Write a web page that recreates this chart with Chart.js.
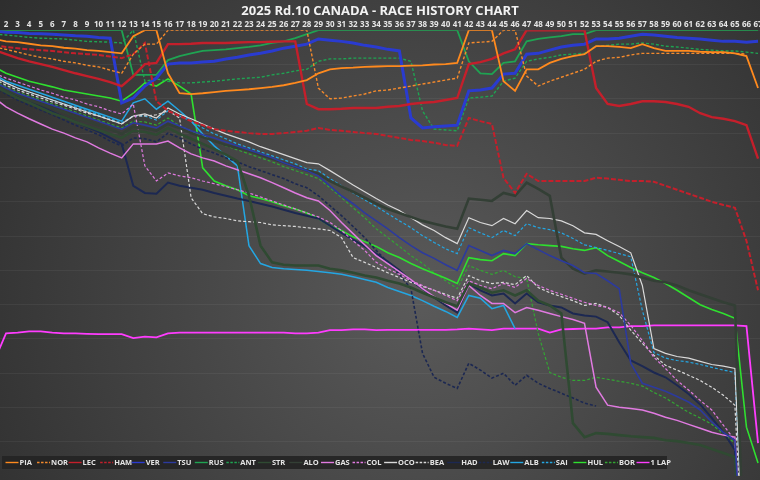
<!DOCTYPE html>
<html>
<head>
<meta charset="utf-8">
<title>2025 Rd.10 CANADA - RACE HISTORY CHART</title>
<script src="https://cdn.jsdelivr.net/npm/chart.js@4.4.1/dist/chart.umd.min.js"></script>
<style>
  html, body { margin: 0; padding: 0; background: #2b2b2b; }
  #wrap { width: 760px; height: 480px; }
</style>
</head>
<body>
<div id="wrap"><canvas id="history" width="760" height="480"></canvas></div>
<script>
// Vueltas (eje X) y etiquetas visibles arriba
const laps = Array.from({ length: 67 }, (_, i) => i + 1);
const lapTicks = Array.from({ length: 66 }, (_, i) => i + 2);

// Diferencia con el líder en segundos, vuelta 1..67 (null = sin dato)
const piaGap = [2.2,2.8,3,3.4,3.8,4,4.4,4.6,5,5.2,5.5,5.8, 1.5,0,0,10.8,15.8,16,15.8,15.5,15.2,15,14.8,14.5,14.2,13.8,13.2,12.5, 10.8,9.8,9.5,9.4,9.2,9.1,9,9,8.9,8.8,8.6,8.5,8.2, 0,0,0,12.8,15.2,9.8,9.8,8.2,7.2,6.5,6, 4,4,4.2,4.5,3.5,4.5,5.2,5.2,5.2,5.4,5.5,5.5,5.8,6.5,14.5];
const norGap = [4.2,4.8,5.5,6.2,6.8,7.2,7.8,8.2,8.8,9.2,10,10.8, 6,3.5,3.5,0,0,0,0,0,0,0,0,0,0,0,0,0, 14.5,17.2,17,16.5,16,15.2,15,14.5,14,13.5,13,12.5,12, 3.2,3,2.8,0,0,11.5,14,12.8,11.8,10.8,9.8, 7.8,7,6.8,6.2,5.8,5.8,5.8,5.8,5.8,5.8,5.8,5.8,5.8,6,null];
const lecGap = [5,6,7,7.8,8.5,9.2,10,10.8,11.5,12.2,13,14, 11.5,8.5,8.2,3.5,3.5,3.4,3.2,3.2,3.2,3.1,3,3,2.9,2.8,2.8,18.5, 19.8,19.8,19.7,19.5,19.5,19.5,19.2,19,18.5,18.2,18,17.5,17, 8.5,8,7.2,5.8,4.8,0,0,0,0,0,0, 14.5,18.5,19,18.5,17.8,17.8,18,18.5,19.2,20.8,21.8,22.2,22.8,23.8,32.2];
const hamGap = [3.8,4.2,4.5,4.8,5,5.2,5.5,5.8,6,6.2,6.6,7, 6,3.2,17.8,20.2,21.5,22.8,23.8,24.8,25.2,25.5,25.8,26,26,25.8,25.5,25.2, 24.5,25,25.2,25.5,25.8,26,26.5,27,27.5,27.8,28.2,28.8,29, 22,22.8,23.5,37,40.8,36,37.8,37.8,37.8,37.8,37.8, 37,37.2,37.5,37.8,37.8,38,39,40,41,42,43,43.8,44.5,52.8,65.2];
const verGap = [0.2,0.5,0.6,0.8,0.9,1,1.2,1.4,1.5,1.8,2,18.2, 17,14,12,8.5,8.2,8.2,8,7.8,7.2,6.8,6.2,5.8,5.2,4.5,4,3.5, 2.2,2.5,2.8,3.2,3.8,4.2,4.8,5.2,22,24.5,24.2,24,23.8, 15.2,15,14.5,11,10.8,6,5.8,5,4.2,3.8,3.5, 2.2,2.2,2,1.5,1,1.2,1.5,1.8,2,2.2,2.5,2.8,2.8,3,2.8];
const tsuGap = [13,14.5,15.8,16.8,17.8,18.8,19.8,20.8,21.8,22.8,23.8,24.8, 23.2,23.8,24.5,22.8,24,25.2,26.2,27,28,29,30,31,32,33.2,34.2,35.2, 36.5,39,41.5,43.5,45.8,47.8,49.8,52,54,55.8,57.2,58.8,60.2, 54,55.2,56.5,55.2,56,53.5,55,56.5,57.8,59,60.8, 61,62.8,64.8,83.5,88.5,89.5,90.5,91.8,93.2,95.2,98.2,100.8,102.8,150,null];
const rusGap = [0,0,0,0,0,0,0,0,0,0,0,0, 11.2,11.2,11.2,7.5,6.5,5.8,5.2,5,4.8,4.5,4.2,3.8,3.2,2.8,2,1, 0,0,0,0,0,0,0,0,0,0,0,0,0, 7.8,10.8,11,8.2,7.8,2.8,2.2,1.8,1.5,1,1, 0,0,0,0,0,0,0,0,0,0,0,0,0,0,0];
const antGap = [1,1.2,1.5,1.8,2,2.1,2.2,2.5,2.8,2.9,3,3.2, 0,12.8,12.2,12.8,13.2,13.2,13,12.8,12.5,12.2,12,11.8,11.2,10.8,10.2,9.8, 7.8,7.2,7.2,7,7,7,7,7,7.8,20.2,24.8,25,25.2, 17,16.8,16.5,12.8,12,7.8,7.2,6.8,6.2,6,5.8, 4,3.8,3.5,3.5,3.2,3.5,4,4.2,4.5,4.8,5,5.2,5.2,5.5,5.8];
const strGap = [14,15.5,17,18.2,19.5,20.8,21.8,23,24,25,26,27, 25.2,25.5,26.2,24.5,26,27.2,28.5,29.8,31.2,32.8,41.5,54,58.2,58.8,59,59, 59,59.8,60.2,60.8,61.5,62,62.8,63.5,64.5,65.8,67,68.2,69.2, 63.5,64.5,65.8,65.2,66.5,65.2,67.8,69,71,98.5,102, 101,101.2,101.5,101.8,102,102.2,102.8,103,103.5,104,105,106,107,150,null];
const aloGap = [13.5,15,16.2,17.5,18.5,19.5,20.5,21.8,22.8,23.8,24.8,26, 24.2,24.5,25.2,23.5,24.5,25.8,26.8,27.8,28.8,29.5,30.2,31.2,32.2,33.2,34.2,35.2, 36,37.8,39.2,40.5,42,43.5,44.8,45.8,46.8,47.8,48.5,49.2,49.8, 42.2,42.5,42.8,40.8,41.5,38.2,39.8,41.5,57,59.8,61, 60.2,60.5,60.8,61.2,62,62.8,63.2,64,65.2,66.2,67.2,68.2,69,150,null];
const gasGap = [17,19.2,20.8,22.2,23.5,24.8,25.8,27,28,29.5,30.8,32, 28.5,28.5,28.5,27.8,29.5,31,32,32.8,34,35,36,37,38.2,39.5,40.8,42, 42.8,45.2,48.2,51,53.8,56.5,58.5,60.5,62.5,64.8,66.8,68.5,70.2, 64,66.5,68.5,68.5,70.8,69.5,70.2,71,71.8,72.5,73.5, 89.5,94,94.5,94.8,95.2,96,97,97.8,98.8,99.8,100.8,101.5,102,150,null];
const colGap = [10.8,12,13,14,15,15.8,16.8,17.5,18.5,19.2,20.2,21, 18.5,34,37.8,35.8,36.5,37,37.8,38.5,39.2,40,40.8,41.8,42.8,43.8,44.8,45.8, 46.8,48.2,50.2,52.8,55.2,58.2,59.8,61.2,62.8,64,65.2,66.5,67.8, 62.8,64,64.8,63.5,64.5,62.2,64,65.2,66.2,67.2,68.2, 69,69.5,70.8,74,77.8,82,84.8,87.8,90.2,92.8,95.2,99,102.8,150,null];
const ocoGap = [11.8,13.2,14.5,15.5,16.5,17.5,18.5,19.5,20.5,21.5,22.5,23.5, 21.5,21,22,19.5,21,22.2,23.5,24.8,26,27,28,29.2,30.2,31.2,32.2,33.2, 33.5,35.2,37,38.8,40.5,42.2,43.8,45.2,47,48.8,50.2,52,53.5, 47,48.2,49,47.2,48.5,45.2,47,47.2,47.8,49,50.8, 51.2,52.8,54.2,55.8,64,79.8,81,81.8,82.2,83,83.8,84.2,84.8,150,null];
const beaGap = [12.2,13.8,15,16,17,18,18.8,19.8,20.8,21.5,22.5,23.5, 21.5,21.5,21.2,20.2,22,42,46,46.8,47.2,47.8,48,48.2,48.8,49,49.2,49.5, 49.8,50.2,52,57,58.2,59.5,60.8,62,63.2,64.2,65.2,66.2,67.2, 61.5,62.8,63.5,63.2,63.8,61.5,64.5,65.8,66.8,67.8,69, 68.5,69.5,71.5,75.2,78.5,81.5,84,85.2,86.5,87.8,89.5,91.5,94,150,null];
const hadGap = [13.8,15.2,16.8,18,19.2,20.5,21.8,23,24.2,25.5,27,28.5, 39,40.8,41,38.2,39,39.5,40,40.8,41.5,42.2,42.8,43.5,44.2,45,45.8,46.5, 47.2,49,50.8,52.5,54.2,56,58,60.2,62.8,64.8,67,69,70.8, 63.5,65.2,66.5,66,68.5,66,68.2,69,69.5,71,71.5, 71.8,73.2,78.2,82.8,84.2,85.8,87,89,91.2,93.8,97.2,100.8,105.2,150,null];
const lawGap = [14.2,16,17.5,18.8,20,21.2,22.5,23.8,25,26.2,27.8,29, 27,27.2,28,25.8,27,28.5,29.8,30.8,32,33,34.2,35.2,36.2,37.2,38.5,39.5, 41.5,44,46.5,49.2,52,55.2,58.2,61.2,64.8,81,87,88.5,89.8, 83.5,85.2,87.2,86,89,86.5,88.5,89.8,91,92.2,93.5, 94.2,null,null,null,null,null,null,null,null,null,null,null,null,null,null];
const albGap = [11.2,12.8,13.8,14.8,15.8,16.8,17.8,18.8,19.8,20.8,21.8,22.8, 18.2,17.2,19.8,17.8,20.2,22.8,26,29,31.5,34,54,58.5,59.5,59.8,60,60.2, 60.5,60.8,61.2,61.8,62.5,63.2,64.5,65.5,66.5,67.8,69.2,70.5,72, 66.5,67.2,69.8,69,74.8,null,null,null,null,null,null, null,null,null,null,null,null,null,null,null,null,null,null,null,null,null];
const saiGap = [11.8,13.2,14.5,15.5,16.5,17.5,18.5,19.2,20.2,21.2,22.2,23.2, 21.5,21.5,22.5,20.2,21.5,22.8,24.5,26,27.2,28.5,29.5,30.5,31.5,32.5,33.5,34.8, 35.2,37.2,39,40.8,42.5,44.2,46,47.8,49.5,51.5,53.2,54.8,56, 49.5,50.8,52,50.2,51.5,48.5,49.5,50,50.8,52.2,53.8, 54.5,55.2,56,56.8,70.2,80.8,82.2,82.8,83.2,83.8,84.5,85.2,85.8,150,null];
const hulGap = [9.2,10.8,11.8,12.8,13.5,14.2,15,15.5,16,16.5,17,17.8, 15.8,13.2,14,12.2,14,16,34.5,37.8,39,40,41.5,42.2,43,44,44.8,45.8, 47.2,49,50.2,51.8,53,54.2,55.8,57,58.5,59.8,61,62.2,63.5, 57,57.5,57.8,56,56.5,53.5,53.8,54,54.2,54.8,55.2, 54.5,56.5,58,59.5,60.8,62,63.5,65.2,67,68.8,70,71,72.2,99.5,108.5];
const borGap = [12.8,14.2,15.5,16.5,17.5,18.5,19.5,20.5,21.5,22.5,23.5,24.5, 22.8,23,23.8,22,24,25.2,26.5,27.8,29,30,31,32,33,34.2,35.2,36.2, 37.2,39.5,42,44.5,47,49.8,52,54.2,56.5,58.5,60.8,62.8,64.8, 59,60.2,61.2,60.2,61.8,62.2,76,85.8,87,87.8,87.8, 87,87.5,88,88.5,89.2,90.8,92.2,94,95.8,97.2,98.8,101.2,103.5,150,null];
const oneLapGap = [82.8,76,75.8,75.5,75.5,75.8,76,76,76.1,76.2,76.2,76.2, 77.2,76.8,77,76,75.8,75.8,75.8,75.8,75.8,75.8,75.8,75.8,75.8,75.8,76,76, 75.8,75.2,75.2,75,75,75.2,75.1,75.1,75.1,75.1,75.1,75.1,75, 74.8,75,75.2,74.8,74.8,74.8,74.8,75.8,75,74.9,74.8, 74.8,74.5,74.5,74.2,74.2,74,74,74,74,74,74,74,74,74.2,103.5];

// Rango visible del eje
const lapMin = 1.48;
const lapMax = 67.17;
const gapMax = 111.75;
const gridStep = 8.6;

const DASH = [3, 2];

/**
 * Crea un dataset de línea a partir de un array de diferencias por vuelta
 */
const series = (label, gaps, color, width, dash) => ({
  label,
  data: laps.map((lap, i) => ({ x: lap, y: gaps[i] })),
  borderColor: color,
  borderWidth: width,
  borderDash: dash || [],
  pointRadius: 0,
  pointHoverRadius: 0,
  tension: 0,
  spanGaps: false,
});

const datasets = [
  series("PIA", piaGap, "#ff8a1e", 1.8),
  series("NOR", norGap, "#f58a2c", 1.4, DASH),
  series("LEC", lecGap, "#c41f2b", 2.4),
  series("HAM", hamGap, "#c41f2b", 2, [5, 2]),
  series("VER", verGap, "#2a3bd0", 3),
  series("TSU", tsuGap, "#2c3a9e", 1.6),
  series("RUS", rusGap, "#1fa352", 1.8),
  series("ANT", antGap, "#1fa352", 1.4, DASH),
  series("STR", strGap, "#2f4a32", 2.6),
  series("ALO", aloGap, "#333f35", 2.6),
  series("GAS", gasGap, "#e07ae0", 1.5),
  series("COL", colGap, "#e07ae0", 1.2, DASH),
  series("OCO", ocoGap, "#d9d9d9", 1.2),
  series("BEA", beaGap, "#d9d9d9", 1.2, DASH),
  series("HAD", hadGap, "#1c2852", 2),
  series("LAW", lawGap, "#1c2852", 1.6, DASH),
  series("ALB", albGap, "#24a6e2", 1.5),
  series("SAI", saiGap, "#24a6e2", 1.2, DASH),
  series("HUL", hulGap, "#2fe02f", 1.6),
  series("BOR", borGap, "#33a533", 1.2, DASH),
  series("1 LAP", oneLapGap, "#ff3cff", 1.8),
];

// Fondo con degradado radial
const backdrop = {
  id: "backdrop",
  beforeDraw(chart) {
    const { ctx, width, height } = chart;
    const g = ctx.createRadialGradient(420, 300, 0, 420, 300, 560);
    g.addColorStop(0, "#5a5a5a");
    g.addColorStop(1, "#2a2a2a");
    ctx.save();
    ctx.fillStyle = g;
    ctx.fillRect(0, 0, width, height);
    ctx.restore();
  },
};

// Leyenda dibujada dentro del área del gráfico, abajo a la izquierda
const legendBar = {
  id: "legendBar",
  afterDraw(chart) {
    const ctx = chart.ctx;
    ctx.save();
    ctx.fillStyle = "rgba(36,36,36,0.92)";
    ctx.fillRect(2, 456, 665, 13);
    ctx.font = 'bold 7.5px "Open Sans", sans-serif';
    ctx.textBaseline = "middle";
    chart.data.datasets.forEach((ds, i) => {
      const x = 5.5 + i * 31.55;
      ctx.strokeStyle = ds.borderColor;
      ctx.lineWidth = 1.4;
      ctx.setLineDash(ds.borderDash.length ? [2.5, 1.5] : []);
      ctx.beginPath();
      ctx.moveTo(x, 462.5);
      ctx.lineTo(x + 13, 462.5);
      ctx.stroke();
      ctx.setLineDash([]);
      ctx.fillStyle = "#e4e4e4";
      ctx.fillText(ds.label, x + 14, 463);
    });
    ctx.restore();
  },
};

new Chart(document.getElementById("history"), {
  type: "line",
  data: { datasets },
  plugins: [backdrop, legendBar],
  options: {
    responsive: false,
    animation: false,
    devicePixelRatio: 1,
    layout: { padding: { left: 0, right: 0, top: 0, bottom: 4 } },
    plugins: {
      legend: { display: false },
      tooltip: { enabled: false },
      title: {
        display: true,
        text: "2025 Rd.10 CANADA - RACE HISTORY CHART",
        color: "#f2f2f2",
        font: { family: '"Open Sans", sans-serif', size: 13, weight: "bold" },
        padding: { top: 3, bottom: 0 },
      },
    },
    scales: {
      x: {
        type: "linear",
        position: "top",
        min: lapMin,
        max: lapMax,
        grid: { display: false, drawTicks: false },
        border: { display: false },
        ticks: {
          color: "#e6e6e6",
          font: { family: '"Open Sans", sans-serif', size: 8, weight: "bold" },
          padding: 1,
          autoSkip: false,
          maxRotation: 0,
          minRotation: 0,
        },
        afterBuildTicks: (axis) => {
          axis.ticks = lapTicks.map((v) => ({ value: v }));
        },
        afterFit: (axis) => {
          axis.paddingLeft = 0;
          axis.paddingRight = 0;
        },
      },
      y: {
        reverse: true,
        min: 0,
        max: gapMax,
        grid: { color: "rgba(255,255,255,0.05)", lineWidth: 1, drawTicks: false },
        border: { display: false },
        ticks: { display: false },
        afterBuildTicks: (axis) => {
          const ticks = [];
          for (let v = 0; v <= gapMax; v += gridStep) ticks.push({ value: v });
          axis.ticks = ticks;
        },
        afterFit: (axis) => {
          axis.width = 0;
        },
      },
    },
  },
});
</script>
</body>
</html>
